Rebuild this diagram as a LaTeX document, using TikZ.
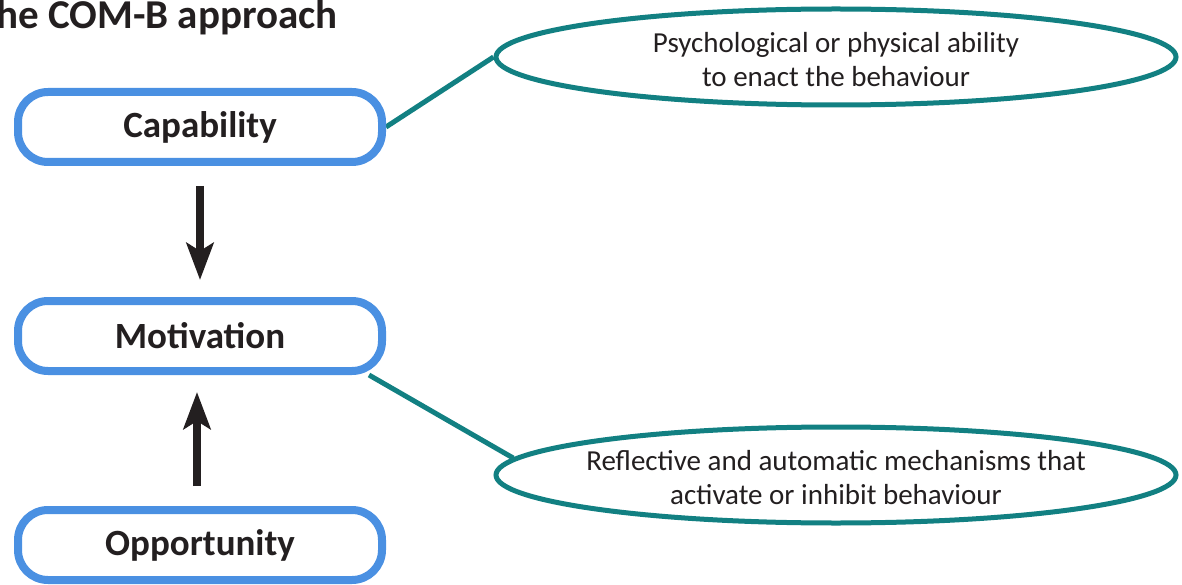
\documentclass[tikz,border=0pt]{standalone}
\usepackage{fontspec}
\setmainfont{Carlito}
\usetikzlibrary{shapes.geometric,arrows.meta,backgrounds}
\definecolor{boxblue}{RGB}{74,144,226}
\definecolor{linkteal}{RGB}{18,128,130}
\definecolor{ink}{RGB}{35,31,32}
\tikzset{
  stagebox/.style={draw=boxblue, line width=8pt, fill=white, rounded corners=30pt,
    minimum width=364pt, minimum height=70pt, inner sep=0pt,
    font=\fontsize{37}{44}\selectfont\bfseries, text=ink},
  notebubble/.style={ellipse, draw=linkteal, line width=5pt, fill=white, inner sep=0pt,
    minimum width=680pt, minimum height=96pt},
  notetext/.style={inner sep=0pt, align=center,
    font=\fontsize{29}{34}\selectfont, text=ink},
  link/.style={draw=linkteal, line width=5pt},
  flow/.style={draw=ink, line width=8pt,
    -{Stealth[length=37pt, width=27pt, inset=8pt]}},
}
\begin{document}
\begin{tikzpicture}[x=1pt, y=-1pt]
  \useasboundingbox (0,0) rectangle (1182,585);

  % title, running off the left edge
  \node[anchor=base east, inner sep=0pt, text=ink,
        font=\fontsize{41}{48}\selectfont\bfseries] (title) at (338,29) {The COM-B approach};

  % the three COM-B components
  \node[stagebox] (cap) at (200,127) {Capability};
  \node[stagebox] (mot) at (200,336) {Motivation};
  \node[stagebox] (opp) at (200,545) {Opportunity};

  % explanatory notes: outline first, wording on top
  \node[notebubble] (capnote) at (836,57) {};
  \node[notetext] (capnotetext) at ([yshift=-3pt]capnote.center)
    {Psychological or physical ability\\to enact the behaviour};
  \node[notebubble] (motnote) at (836,475) {};
  \node[notetext] (motnotetext) at ([yshift=-3pt]motnote.center)
    {Reflective and automatic mechanisms that\\activate or inhibit behaviour};

  % links from components to their notes
  \begin{scope}[on background layer]
    \draw[link] (cap.east) -- (capnote.west);
    \draw[link] (mot.-13) -- (motnote.177);
  \end{scope}

  % influence arrows
  \draw[flow, shorten <=20pt, shorten >=17pt] (cap.south) -- (mot.north);
  \draw[flow, shorten <=20pt, shorten >=17pt] ([xshift=-3pt]opp.north) -- ([xshift=-3pt]mot.south);
\end{tikzpicture}
\end{document}
